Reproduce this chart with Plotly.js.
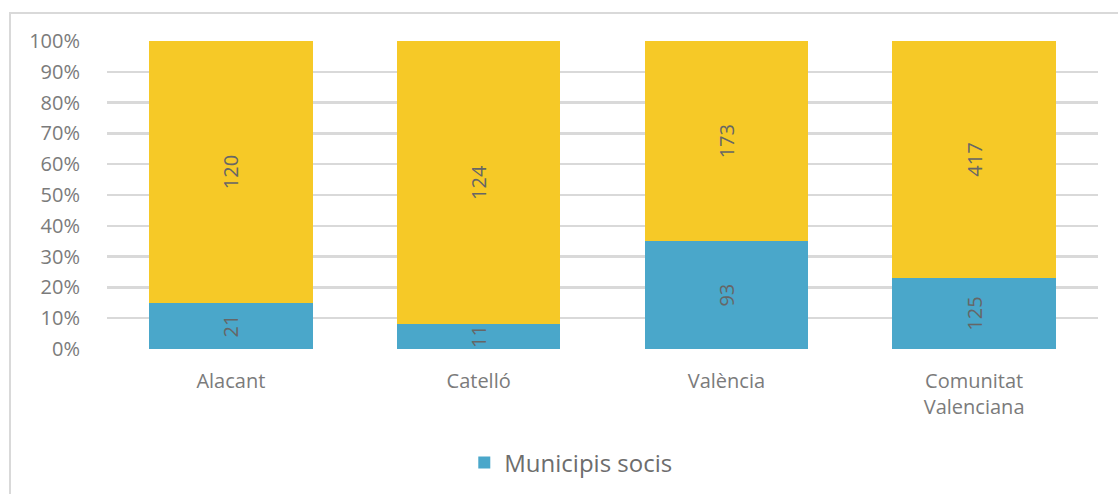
<!DOCTYPE html>
<html>
<head>
<meta charset="utf-8">
<script src="https://cdn.plot.ly/plotly-3.0.1.min.js"></script>
<style>
  html, body { margin: 0; padding: 0; background: #fff; overflow: hidden; }
  #frame { position: absolute; left: 9px; top: 12px; width: 1200px; height: 600px;
           border: 2px solid #d9d9d9; box-sizing: border-box; }
  #chart { position: absolute; left: 0; top: 0; width: 1118px; height: 494px; }
</style>
</head>
<body>
<div id="frame"></div>
<div id="chart"></div>
<script>
const categories = ["Alacant", "Catelló", "València", "Comunitat<br>Valenciana"];
const sociosName = "Municipis socis";
const socios = [21, 11, 93, 125];
const noSocios = [120, 124, 173, 417];
const yTickVals = [0, 10, 20, 30, 40, 50, 60, 70, 80, 90, 100];
const yTickText = ["0%", "10%", "20%", "30%", "40%", "50%", "60%", "70%", "80%", "90%", "100%"];

const labelFont = { family: "Open Sans", size: 20, color: "#666666" };

const traces = [
  {
    type: "bar", name: sociosName, x: categories, y: socios,
    text: socios.map(String), textposition: "inside", insidetextanchor: "middle",
    textangle: -90, constraintext: "none", textfont: labelFont,
    marker: { color: "#4aa7ca" }, hoverinfo: "x+text"
  },
  {
    type: "bar", name: "", x: categories, y: noSocios, showlegend: false,
    text: noSocios.map(String), textposition: "inside", insidetextanchor: "middle",
    textangle: -90, constraintext: "none", textfont: labelFont,
    marker: { color: "#f6c927" }, hoverinfo: "x+text"
  }
];

const layout = {
  width: 1118, height: 494,
  margin: { l: 107, r: 20, t: 41, b: 145, autoexpand: false },
  paper_bgcolor: "rgba(0,0,0,0)", plot_bgcolor: "rgba(0,0,0,0)",
  barmode: "stack", barnorm: "percent", bargap: 0.34,
  font: { family: "Open Sans", size: 20, color: "#7b7b7b" },
  xaxis: {
    showgrid: false, zeroline: false, showline: false, ticks: "", automargin: false,
    tickfont: { family: "Open Sans", size: 20, color: "#7b7b7b" },
    ticklabelstandoff: 18
  },
  yaxis: {
    range: [0, 100], tickmode: "array", tickvals: yTickVals, ticktext: yTickText,
    showgrid: true, gridcolor: "#d9d9d9", gridwidth: 2.5, automargin: false,
    zeroline: false, showline: false, ticks: "",
    tickfont: { family: "Open Sans", size: 20, color: "#7b7b7b" },
    ticklabelstandoff: 26
  },
  legend: {
    orientation: "h", x: 0.468, xanchor: "center", xref: "paper",
    y: -0.37, yanchor: "middle",
    font: { family: "Open Sans", size: 24, color: "#6d6d6d" }
  },
  showlegend: true
};

Plotly.newPlot("chart", traces, layout, { displayModeBar: false, staticPlot: true });
</script>
</body>
</html>
